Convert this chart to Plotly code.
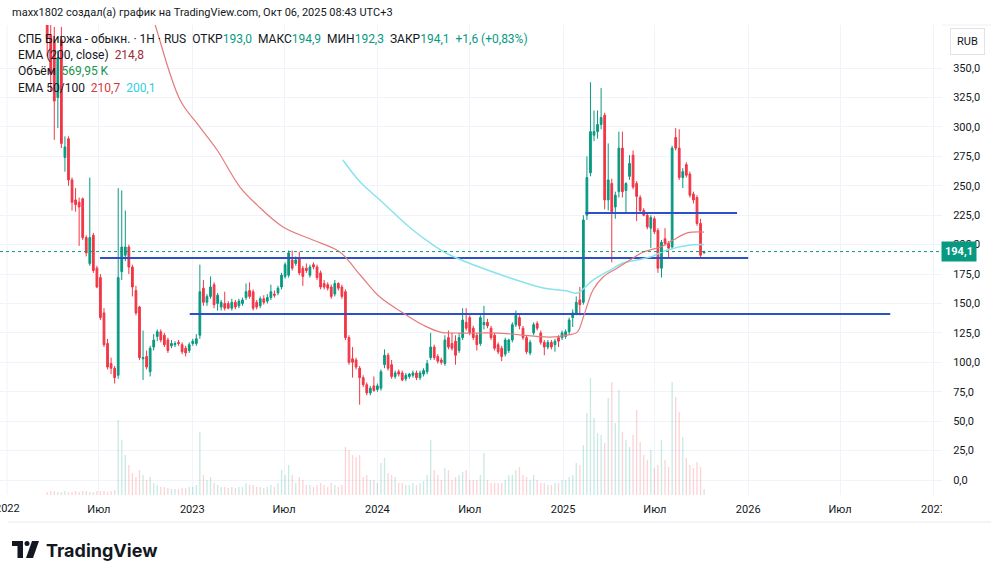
import plotly.graph_objects as go
import pandas as pd

# ---------------- data (weekly candles) ----------------
last_week = "2025-10-06"

opens = [440, 378, 372, 325, 374, 274, 290, 255, 238, 236,
         239, 206, 184, 208, 180, 172, 142, 116, 99, 95,
         89, 177, 191, 198, 181, 161, 147, 103, 105, 92,
         113, 122, 126, 123, 119, 114, 115, 117, 115, 112,
         110, 116, 116, 123, 163, 151, 156, 166, 150, 147,
         150, 150, 146, 151, 148, 150, 155, 161, 160, 151,
         148, 154, 152, 155, 158, 159, 164, 173, 174, 187,
         184, 189, 180, 180, 174, 183, 181, 176, 167, 166,
         164, 158, 167, 164, 160, 121, 103, 102, 95, 87,
         81, 74, 80, 77, 78, 98, 106, 98, 88, 92,
         91, 86, 88, 89, 91, 87, 90, 92, 104, 113,
         105, 102, 99, 121, 116, 118, 110, 121, 134, 138,
         129, 123, 116, 132, 134, 129, 123, 115, 112, 107,
         110, 119, 132, 138, 129, 121, 108, 125, 133, 125,
         117, 113, 117, 115, 121, 121, 122, 126, 138, 142,
         153, 151, 225, 261, 293, 296, 302, 310, 238, 252,
         232, 245, 282, 246, 258, 276, 252, 240, 229, 225,
         214, 222, 212, 180, 205, 201, 198, 291, 282, 257,
         268, 260, 243, 240, 218, 193]
highs = [460, 410, 385, 365, 385, 292, 292, 257, 248, 240,
         240, 208, 257, 210, 182, 175, 146, 120, 104, 97,
         248, 246, 229, 200, 183, 165, 148, 127, 110, 114,
         124, 128, 128, 125, 121, 119, 118, 119, 117, 114,
         117, 120, 124, 183, 170, 158, 173, 168, 159, 153,
         160, 152, 154, 153, 154, 155, 167, 168, 162, 153,
         156, 157, 158, 166, 161, 165, 176, 185, 195, 195,
         190, 194, 182, 184, 183, 185, 183, 178, 170, 168,
         166, 170, 168, 166, 162, 123, 113, 104, 97, 89,
         83, 80, 88, 82, 94, 111, 108, 102, 93, 94,
         93, 91, 91, 93, 93, 93, 95, 102, 125, 115,
         107, 104, 123, 127, 125, 123, 125, 146, 146, 140,
         131, 125, 140, 148, 137, 131, 125, 117, 114, 121,
         120, 134, 144, 140, 131, 123, 119, 134, 135, 127,
         119, 119, 119, 120, 123, 127, 128, 138, 145, 156,
         164, 225, 275, 338, 314, 314, 333, 312, 286, 256,
         245, 296, 296, 253, 276, 280, 254, 242, 231, 227,
         225, 224, 214, 204, 214, 203, 284, 299, 298, 265,
         270, 262, 245, 242, 222, 194.9]
lows = [360, 330, 289, 299, 282, 262, 250, 229, 228, 199,
        204, 190, 182, 176, 163, 136, 113, 94, 90, 82,
        86, 170, 186, 175, 156, 140, 102, 85, 94, 88,
        110, 118, 117, 113, 108, 112, 113, 114, 107, 105,
        108, 114, 114, 120, 148, 148, 154, 146, 144, 144,
        144, 145, 144, 145, 146, 148, 153, 154, 144, 145,
        146, 149, 150, 153, 155, 157, 162, 171, 172, 178,
        182, 174, 165, 176, 172, 179, 170, 162, 162, 161,
        154, 156, 161, 154, 119, 98, 87, 94, 64, 79,
        72, 72, 75, 75, 76, 95, 93, 86, 86, 88,
        84, 84, 86, 87, 85, 85, 88, 90, 102, 102,
        99, 98, 97, 111, 110, 98, 108, 119, 127, 123,
        119, 110, 114, 128, 129, 119, 110, 107, 101, 105,
        108, 117, 130, 128, 119, 107, 106, 123, 127, 115,
        106, 111, 111, 109, 113, 119, 120, 124, 130, 140,
        140, 149, 221, 258, 288, 290, 298, 230, 229, 185,
        222, 240, 240, 227, 255, 247, 220, 227, 224, 213,
        197, 209, 176, 172, 199, 189, 196, 280, 255, 248,
        257, 240, 235, 216, 189, 192.3]
closes = [375, 345, 322, 359, 286, 283, 255, 236, 234, 232,
          206, 193, 206, 178, 164, 138, 115, 96, 95, 87,
          172, 198, 198, 181, 164, 142, 104, 104, 96, 112,
          119, 126, 119, 115, 110, 116, 116, 116, 109, 108,
          115, 118, 120, 160, 151, 156, 164, 149, 157, 151,
          146, 146, 151, 147, 152, 153, 160, 156, 146, 147,
          154, 151, 155, 160, 157, 163, 174, 183, 193, 180,
          187, 176, 173, 178, 181, 181, 172, 164, 164, 163,
          156, 167, 163, 156, 121, 100, 100, 96, 87, 81,
          74, 78, 76, 80, 92, 106, 95, 88, 91, 90,
          85, 89, 90, 91, 87, 91, 93, 99, 113, 104,
          101, 100, 119, 113, 112, 106, 121, 136, 129, 125,
          121, 115, 138, 134, 131, 121, 112, 109, 105, 119,
          119, 132, 140, 131, 121, 109, 117, 132, 129, 117,
          113, 117, 113, 118, 118, 125, 126, 136, 142, 151,
          149, 221, 257, 296, 296, 302, 308, 238, 255, 228,
          242, 282, 245, 252, 269, 249, 241, 229, 225, 215,
          223, 211, 180, 202, 201, 197, 282, 282, 257, 262,
          259, 242, 238, 218, 191, 194.1]
volume_k = [300, 400, 400, 300, 300, 400, 300, 300, 400, 300,
            400, 400, 300, 300, 400, 400, 400, 300, 400, 500,
            7500, 5500, 4000, 3000, 2200, 1800, 2500, 2000, 1500, 1800,
            1200, 1000, 800, 800, 700, 600, 600, 600, 700, 700,
            800, 800, 1000, 6300, 2000, 1500, 1800, 1200, 1000, 800,
            800, 700, 800, 700, 800, 800, 1200, 1000, 1000, 800,
            800, 700, 800, 1000, 800, 1200, 2500, 2000, 3000, 2000,
            1200, 1800, 1500, 1000, 1000, 800, 1000, 1200, 1000, 800,
            1200, 1000, 800, 1000, 4800, 4500, 4000, 3800, 4000, 1800,
            2000, 1500, 1500, 1200, 3200, 3700, 2200, 2000, 1800, 1200,
            1200, 1000, 1000, 1200, 1000, 1200, 1400, 2000, 5500, 2500,
            2000, 1500, 2700, 2500, 1500, 1800, 2000, 2300, 2500, 1500,
            1500, 1500, 2000, 4200, 1500, 1200, 1200, 1200, 1200, 1500,
            2000, 2000, 2500, 2800, 2000, 1800, 1500, 2000, 1500, 1200,
            1200, 1000, 1000, 1200, 1200, 1500, 1500, 1800, 2000, 3200,
            3000, 5000, 8200, 11700, 7700, 6200, 6000, 5200, 9700, 11300,
            7200, 10500, 6300, 5500, 4800, 6000, 8500, 5300, 4000, 3500,
            4500, 2700, 3000, 5500, 3500, 2800, 11300, 9800, 8300, 5800,
            3700, 3000, 2700, 3300, 2800, 570]

ema50_dates = ["2022-10-10", "2022-10-20", "2022-12-08", "2023-01-16", "2023-02-19",
               "2023-04-05", "2023-05-09", "2023-06-29", "2023-08-27", "2023-10-19",
               "2023-11-28", "2024-01-06", "2024-02-21", "2024-03-31", "2024-05-04",
               "2024-06-12", "2024-08-24", "2024-12-07", "2025-01-09", "2025-01-29",
               "2025-02-10", "2025-03-01", "2025-03-21", "2025-04-18", "2025-05-13",
               "2025-06-08", "2025-07-12", "2025-08-06", "2025-09-03", "2025-10-06"]
ema50_vals = [400, 386.6, 322.9, 299.9, 280.4,
              248.9, 233.6, 215.0, 203.9, 193.7,
              174.2, 155.5, 141.9, 131.7, 125.7,
              124.9, 124.9, 121.5, 123.2, 125.7,
              138.5, 161.4, 172.5, 180.1, 186.9,
              193.7, 198.0, 203.9, 210.0, 210.7]

ema100_dates = ["2023-10-25", "2023-11-28", "2024-01-06", "2024-03-06", "2024-04-14",
                "2024-05-23", "2024-09-13", "2024-11-23", "2025-01-09", "2025-01-29",
                "2025-03-01", "2025-04-04", "2025-04-29", "2025-05-27", "2025-06-22",
                "2025-07-25", "2025-09-09", "2025-10-06"]
ema100_vals = [271.9, 253.2, 237.9, 214.1, 201.4,
               191.2, 172.5, 163.1, 160.6, 158.9,
               169.9, 178.4, 184.4, 186.9, 189.5,
               195.4, 199.7, 200.1]

# drawn support / resistance levels
level_values = [188.6, 141.0, 226.8]
level_starts = ["2022-07-03", "2022-12-27", "2025-02-14"]
level_ends = ["2026-01-01", "2026-10-08", "2025-12-10"]

last_price = 194.1
price_ticks = [0, 25, 50, 75, 100, 125, 150, 175, 200, 225, 250, 275, 300, 325, 350]
time_tick_dates = ["2022-07-01", "2023-01-01", "2023-07-01", "2024-01-01",
                   "2024-07-01", "2025-01-01", "2025-07-01", "2026-01-01", "2026-07-01",
                   "2027-01-01"]
time_tick_labels = ["Июл", "2023", "Июл", "2024", "Июл", "2025", "Июл", "2026",
                    "Июл", "2027"]
first_year_label = "2022"

# ---------------- layout geometry ----------------
W, H = 1000, 578
ML, MR, MT, MB = 0, 58, 25, 83
PW, PH = W - ML - MR, H - MT - MB


def px(x):
    return (x - ML) / PW


def py(y):
    return (H - MB - y) / PH


dates = pd.date_range(end=last_week, periods=len(closes), freq="7D")

UP, DOWN = "#089981", "#f23645"
vol_colors = ["rgba(8,153,129,0.22)" if c >= o else "rgba(242,54,69,0.22)"
              for o, c in zip(opens, closes)]

fig = go.Figure()

fig.add_trace(go.Bar(x=dates, y=volume_k, yaxis="y2", marker_color=vol_colors,
                     marker_line_width=0, width=2.6 * 86400000, hoverinfo="skip",
                     showlegend=False))

for lv, ls, le in zip(level_values, level_starts, level_ends):
    fig.add_trace(go.Scatter(x=[ls, le], y=[lv, lv], mode="lines",
                             line=dict(color="#2d4fc8", width=2), hoverinfo="skip",
                             showlegend=False))

fig.add_trace(go.Scatter(x=ema100_dates, y=ema100_vals, mode="lines",
                         line=dict(color="#8ae3ec", width=1.5, shape="spline"),
                         hoverinfo="skip", showlegend=False))
fig.add_trace(go.Scatter(x=ema50_dates, y=ema50_vals, mode="lines",
                         line=dict(color="#e57b7b", width=1.2, shape="spline"),
                         hoverinfo="skip", showlegend=False))

fig.add_trace(go.Candlestick(
    x=dates, open=opens, high=highs, low=lows, close=closes,
    increasing=dict(line=dict(color=UP, width=1), fillcolor=UP),
    decreasing=dict(line=dict(color=DOWN, width=1), fillcolor=DOWN),
    whiskerwidth=0, hoverinfo="skip", showlegend=False))

FONT = "Roboto, 'Open Sans', sans-serif"
TXT = "#131722"

fig.update_layout(
    width=W, height=H,
    margin=dict(l=ML, r=MR, t=MT, b=MB),
    paper_bgcolor="white", plot_bgcolor="white",
    separators=", ",
    font=dict(family=FONT, size=11, color=TXT),
    showlegend=False,
    xaxis=dict(type="date", range=["2021-12-18", "2027-01-18"],
               tickvals=time_tick_dates, ticktext=time_tick_labels,
               showgrid=True, gridcolor="#f0f3fa", gridwidth=1, zeroline=False,
               rangeslider=dict(visible=False), showline=False, ticks="",
               ticklabelstandoff=6,
               tickfont=dict(size=11, color=TXT), fixedrange=True),
    yaxis=dict(side="right", range=[-12.7, 386.6], tickvals=price_ticks,
               tickformat=".1f", showgrid=True, gridcolor="#f0f3fa", zeroline=False,
               showline=False, ticks="outside", ticklen=8, tickcolor="white",
               tickfont=dict(size=11, color=TXT)),
    yaxis2=dict(overlaying="y", range=[0, 47000], visible=False),
)

shapes = []
# extra vertical grid line for the first year boundary
shapes.append(dict(type="line", xref="x", yref="paper", x0="2022-01-01", x1="2022-01-01",
                   y0=0, y1=1, line=dict(color="#f0f3fa", width=1), layer="below"))
# last price dotted line
shapes.append(dict(type="line", xref="paper", yref="y", x0=0, x1=1,
                   y0=last_price, y1=last_price,
                   line=dict(color=UP, width=1, dash="dot")))
# chart frame lines (top / bottom)
shapes.append(dict(type="line", xref="paper", yref="paper", x0=px(8), x1=px(991),
                   y0=py(522), y1=py(522), line=dict(color="#e6e8ee", width=1)))
shapes.append(dict(type="line", xref="paper", yref="paper", x0=px(942), x1=px(991),
                   y0=py(25), y1=py(25), line=dict(color="#eef0f4", width=1)))
# price-scale area hides the overflow of the last time label
shapes.append(dict(type="rect", xref="paper", yref="paper", x0=px(942), x1=px(990),
                   y0=py(520), y1=py(497), fillcolor="white", line=dict(width=0),
                   layer="above"))
# TradingView logo glyph
shapes.append(dict(type="path", xref="paper", yref="paper",
                   path=(f"M {px(12)},{py(541)} L {px(23)},{py(541)} L {px(23)},{py(558)} "
                         f"L {px(17.5)},{py(558)} L {px(17.5)},{py(546)} L {px(12)},{py(546)} Z"),
                   fillcolor="#131722", line=dict(width=0)))
shapes.append(dict(type="circle", xref="paper", yref="paper",
                   x0=px(24.5), x1=px(29.5), y0=py(541), y1=py(546),
                   fillcolor="#131722", line=dict(width=0)))
shapes.append(dict(type="path", xref="paper", yref="paper",
                   path=(f"M {px(32)},{py(541)} L {px(39)},{py(541)} L {px(33)},{py(558)} "
                         f"L {px(26)},{py(558)} Z"),
                   fillcolor="#131722", line=dict(width=0)))
fig.update_layout(shapes=shapes)


def teal(s):
    return f'<span style="color:#089981">{s}</span>'


NB = "&nbsp;"
annotations = [
    dict(text="maxx1802 создал(а) график на TradingView.com, Окт 06, 2025 08:43 UTC+3",
         x=px(10), y=py(13), font=dict(size=11, color=TXT)),
    dict(text=("СПБ Биржа - обыкн. · 1H · RUS" + NB * 2 + "ОТКР" + teal("193,0") + NB * 2 +
               "МАКС" + teal("194,9") + NB * 2 + "МИН" + teal("192,3") + NB * 2 +
               "ЗАКР" + teal("194,1") + NB * 2 + teal("+1,6 (+0,83%)")),
         x=px(16), y=py(39), font=dict(size=12, color=TXT)),
    dict(text='EMA (200, close)' + NB * 2 + '<span style="color:#9c2b37">214,8</span>',
         x=px(16), y=py(55), font=dict(size=12, color=TXT)),
    dict(text='Объём' + NB * 2 + '<span style="color:#22914f">569,95 K</span>',
         x=px(16), y=py(71), font=dict(size=12, color=TXT)),
    dict(text=('EMA 50/100' + NB * 2 + '<span style="color:#d9363e">210,7</span>' + NB * 2 +
               '<span style="color:#2fd0e3">200,1</span>'),
         x=px(16), y=py(88), font=dict(size=12, color=TXT)),
    dict(text="<b>TradingView</b>", x=px(44), y=py(550),
         font=dict(size=18, color="#131722", family="Inter, Roboto, sans-serif")),
]
for a in annotations:
    a.update(xref="paper", yref="paper", xanchor="left", yanchor="middle",
             showarrow=False)

# first year label sits at the very edge and is cut by the canvas
annotations.append(dict(text=first_year_label, xref="x", yref="paper", x="2022-01-01",
                        y=py(508), xanchor="center", yanchor="middle", showarrow=False,
                        font=dict(size=11, color=TXT)))
annotations.append(dict(text="RUB", xref="paper", yref="paper", x=px(967), y=py(41),
                        xanchor="center", yanchor="middle", showarrow=False,
                        font=dict(size=11, color=TXT), bordercolor="#e0e3eb",
                        borderwidth=1, borderpad=6, bgcolor="white"))
annotations.append(dict(text="<b>194,1</b>", xref="paper", yref="y", x=px(941),
                        y=last_price, xanchor="left", yanchor="middle", showarrow=False,
                        font=dict(size=11, color="white"), bgcolor=UP, borderpad=3))
fig.update_layout(annotations=annotations)

fig.write_html("out.html")
